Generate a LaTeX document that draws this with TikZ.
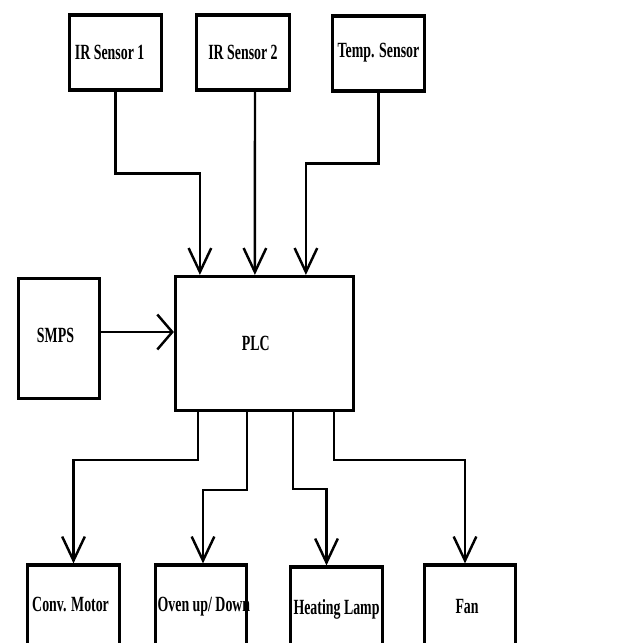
\documentclass[tikz,border=0pt]{standalone}
\usepackage{fontspec}
\usepackage{tikz}
\usetikzlibrary{positioning, arrows.meta, calc}
\newfontfamily\boxfont[FakeStretch=0.64]{Liberation Serif}
\tikzset{
x=0.03cm, y=-0.03cm, % one unit is one pixel of the sketch, y runs downwards
block/.style={draw, rectangle, line width=2.7pt, inner sep=0pt,
  font=\boxfont\bfseries\fontsize{18.5}{20}\selectfont}, % every box of the chart
sensor/.style={block, minimum width=2.78cm, minimum height=2.25cm}, % the three inputs
output/.style={block, minimum width=2.75cm, minimum height=2.52cm}, % the four outputs
wire/.style={line width=2.1pt, -{Straight Barb[length=0.72cm, width=0.68cm]}}, % signal lines
}

\begin{document}
\begin{tikzpicture}
    \useasboundingbox (0,0) rectangle (620,643);

    \node[sensor] (ir1) at (115.5,52.5) {IR Sensor 1\hspace*{10pt}};
    \node[sensor] (ir2) at (243,52.5) {IR Sensor 2};
    \node[sensor] (temp) at (378.5,53.5) {\raisebox{6pt}{Temp. Sensor}};

    \node[block, minimum width=5.34cm, minimum height=4.02cm] (plc) at (264.5,343.5) {PLC\hspace*{15pt}};
    \node[block, minimum width=2.43cm, minimum height=3.6cm] (smps) at (59,338.5) {\raisebox{5pt}{SMPS}\hspace*{6pt}};

    \node[output] (conv) at (73.5,607) {\raisebox{4pt}{Conv. Motor}\hspace*{5pt}};
    \node[output] (oven) at (201,607) {\makebox[0pt]{\hspace*{5pt}\raisebox{5pt}{Oven up/ Down}}};
    \node[output] (lamp) at (336.5,609) {Heating Lamp};
    \node[output] (fan) at (470,607) {Fan\hspace*{5pt}};

    % inputs
    \draw[wire] (ir1.south) -- ++(0,82) -| ($(plc.north west)+(26,0)$);
    \draw[wire] ($(ir2.south)+(12,0)$) -- ($(plc.north west)+(81,0)$);
    \draw[wire] (temp.south) -- ++(0,71) -| ($(plc.north west)+(132,0)$);
    \coordinate (feed) at ($(smps.east)+(0,-6.5)$);
    \draw[wire, -{Straight Barb[length=0.45cm, width=1.05cm]}] (feed) -- (feed -| plc.west);

    % outputs
    \draw[wire] ($(plc.south west)+(24,0)$) -- ++(0,48) -| (conv.north);
    \draw[wire] ($(plc.south west)+(73,0)$) -- ++(0,78) -| ($(oven.north)+(2,0)$);
    \draw[wire] ($(plc.south west)+(119,0)$) -- ++(0,77) -| ($(lamp.north)+(-10,0)$);
    \draw[wire] ($(plc.south west)+(160,0)$) -- ++(0,48) -| ($(fan.north)+(-5,0)$);
\end{tikzpicture}
\end{document}
